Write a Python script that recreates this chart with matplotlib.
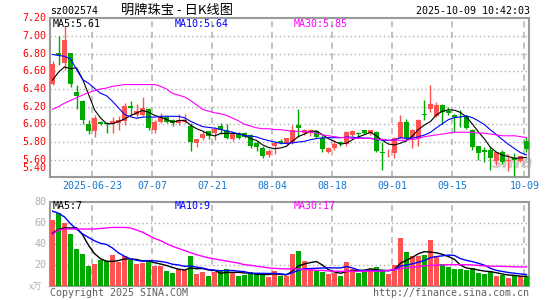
import matplotlib
matplotlib.use("Agg")
import matplotlib.pyplot as plt
from matplotlib.patches import Rectangle
import pandas as pd

# Daily K-line data, 80 trading days 2025-06-12 .. 2025-10-09
opens = [6.46, 6.81, 6.69, 6.81, 6.37, 6.26, 6.00, 5.92, 6.03, 6.01,
         6.00, 6.01, 6.04, 6.21, 6.10, 6.11, 6.17, 5.93, 6.03, 6.08,
         6.05, 6.02, 6.03, 5.98, 5.79, 5.84, 5.92, 5.90, 5.98, 5.94,
         5.83, 5.90, 5.90, 5.88, 5.79, 5.73, 5.65, 5.75, 5.81, 5.78,
         5.80, 5.99, 5.90, 5.92, 5.92, 5.85, 5.69, 5.73, 5.80, 5.78,
         5.88, 5.90, 5.93, 5.90, 5.91, 5.69, 5.67, 5.67, 5.85, 6.03,
         5.84, 5.85, 6.12, 6.17, 6.09, 6.22, 6.15, 6.10, 6.11, 6.08,
         5.93, 5.75, 5.71, 5.71, 5.58, 5.69, 5.59, 5.62, 5.59, 5.81]
highs = [6.72, 7.00, 7.11, 6.81, 6.44, 6.27, 6.05, 6.10, 6.04, 6.03,
         6.08, 6.09, 6.24, 6.26, 6.23, 6.31, 6.18, 6.05, 6.13, 6.09,
         6.06, 6.12, 6.12, 6.01, 5.83, 5.92, 5.92, 5.97, 6.01, 6.00,
         5.91, 5.91, 5.91, 5.89, 5.81, 5.76, 5.72, 5.81, 5.83, 5.85,
         5.99, 6.17, 5.95, 5.95, 5.93, 5.88, 5.74, 5.82, 5.81, 5.92,
         5.93, 5.91, 5.94, 5.94, 5.92, 5.80, 5.72, 5.86, 6.10, 6.06,
         5.95, 6.06, 6.27, 6.45, 6.25, 6.23, 6.20, 6.12, 6.16, 6.10,
         5.95, 5.75, 5.74, 5.74, 5.69, 5.71, 5.66, 5.68, 5.64, 5.86]
lows = [6.44, 6.67, 6.61, 6.42, 6.17, 6.00, 5.89, 5.86, 5.99, 5.90,
        5.90, 5.93, 5.99, 6.11, 6.08, 6.09, 5.93, 5.90, 6.01, 6.01,
        5.98, 5.99, 6.01, 5.70, 5.74, 5.82, 5.83, 5.82, 5.89, 5.83,
        5.81, 5.83, 5.84, 5.73, 5.70, 5.62, 5.63, 5.66, 5.78, 5.77,
        5.78, 5.86, 5.88, 5.87, 5.85, 5.69, 5.68, 5.71, 5.75, 5.76,
        5.87, 5.86, 5.89, 5.88, 5.69, 5.48, 5.63, 5.62, 5.84, 5.81,
        5.73, 5.76, 6.05, 6.14, 6.08, 6.00, 6.10, 5.91, 5.97, 5.95,
        5.71, 5.60, 5.57, 5.48, 5.54, 5.55, 5.47, 5.42, 5.57, 5.69]
closes = [6.68, 6.79, 6.95, 6.46, 6.32, 6.05, 5.92, 6.07, 6.00, 6.00,
          6.04, 6.05, 6.21, 6.19, 6.15, 6.18, 5.96, 6.03, 6.08, 6.03,
          6.02, 6.05, 6.05, 5.80, 5.83, 5.89, 5.87, 5.95, 5.94, 5.84,
          5.89, 5.85, 5.86, 5.75, 5.74, 5.64, 5.70, 5.79, 5.79, 5.84,
          5.93, 5.96, 5.93, 5.94, 5.86, 5.72, 5.73, 5.78, 5.79, 5.91,
          5.92, 5.89, 5.90, 5.93, 5.70, 5.67, 5.68, 5.85, 6.03, 5.84,
          5.94, 6.05, 6.10, 6.23, 6.22, 6.14, 6.13, 6.08, 6.10, 5.96,
          5.74, 5.68, 5.69, 5.62, 5.69, 5.57, 5.60, 5.60, 5.64, 5.72]
# volume in 10k shares
volumes = [63, 69, 60, 49, 35, 30, 18.4, 20.3, 24.8, 23.2,
           28.9, 22.5, 27.9, 24.8, 21, 21.6, 23.5, 18.7, 18.7, 13.7,
           12.1, 15.6, 14.6, 27.9, 10.8, 12.7, 8.9, 12.7, 13.7, 15.6,
           12.7, 8.9, 9.8, 12.7, 10.8, 11.4, 8.3, 13.7, 9.2, 8.9,
           29.8, 32.7, 23.2, 15.6, 13.7, 13, 10.8, 12.4, 9.2, 22.2,
           16.2, 12.4, 14, 15.6, 17.5, 13.7, 10.8, 19.4, 45.4, 31.7,
           27.9, 28.3, 28.9, 43.2, 28.3, 20.6, 17.8, 15.6, 15.6, 14.6,
           16.5, 12.1, 10.8, 13, 9.2, 10.5, 7.3, 9.2, 8.9, 8.9]

# a few days before the window, needed for the MA5 / MA10 start
prior_close = [6.89, 7.05, 6.76, 7.50, 7.20, 6.34, 6.65, 6.56, 6.27]
prior_vol = [89, 95, 114, 85, 77, 51.5, 52.5, 49, 34]

# 30-day averages
ma30_price = [6.17, 6.20, 6.24, 6.27, 6.30, 6.33, 6.36, 6.38, 6.40, 6.41,
              6.43, 6.44, 6.45, 6.45, 6.45, 6.45, 6.45, 6.45, 6.43, 6.40,
              6.35, 6.33, 6.31, 6.27, 6.22, 6.17, 6.15, 6.13, 6.12, 6.10,
              6.07, 6.04, 6.00, 5.98, 5.96, 5.95, 5.95, 5.94, 5.94, 5.93,
              5.92, 5.92, 5.92, 5.91, 5.90, 5.88, 5.87, 5.86, 5.85, 5.85,
              5.84, 5.84, 5.84, 5.84, 5.83, 5.83, 5.82, 5.82, 5.82, 5.82,
              5.83, 5.84, 5.86, 5.87, 5.88, 5.89, 5.90, 5.91, 5.91, 5.91,
              5.91, 5.90, 5.90, 5.89, 5.88, 5.87, 5.87, 5.87, 5.86, 5.85]
ma30_vol = [49, 53, 54, 54, 54, 54, 54, 54, 54.5, 55,
            55.5, 55.5, 55.5, 55, 53, 51, 48, 45, 43, 40,
            37.5, 35.5, 33.5, 31.5, 29.5, 28, 26.5, 25.5, 24.5, 23.5,
            22.5, 21.5, 20, 19.5, 18.5, 17.8, 17, 16.5, 16.2, 16,
            16, 16, 15.5, 15, 14.7, 14.5, 14, 13.8, 13.7, 13.7,
            13.7, 13.7, 13.7, 13.7, 13.8, 14, 14.5, 15.3, 16.3, 17,
            17.6, 18.2, 18.8, 19.4, 19.6, 19.8, 20, 20, 20, 20,
            19.8, 19.3, 18.8, 18.6, 18.5, 18.4, 18.2, 18, 17.9, 17.8]

# x axis date labels and the day they fall on
date_labels = ['2025-06-23', '07-07', '07-21', '08-04', '08-18', '09-01', '09-15', '10-09']
date_index = [7, 17, 27, 37, 47, 57, 67, 79]

price_ticks = [7.20, 7.00, 6.80, 6.60, 6.40, 6.20, 6.00, 5.80, 5.60, 5.40]
vol_ticks = [80, 60, 40, 20]

code = 'sz002574'
title = '明牌珠宝 - 日K线图'
stamp = '2025-10-09 10:42:03'
price_ma_text = ['MA5:5.61', 'MA10:5.64', 'MA30:5.85']
vol_ma_text = ['MA5:7', 'MA10:9', 'MA30:17']

RED = '#ff5252'
GREEN = '#00a800'
MONO = 'DejaVu Sans Mono'
CJK = ['Noto Sans CJK SC', 'DejaVu Sans']

# moving averages
c_all = pd.Series(prior_close + closes)
v_all = pd.Series(prior_vol + volumes)
n = len(closes)
ma5_price = c_all.rolling(5).mean().values[-n:]
ma10_price = c_all.rolling(10).mean().values[-n:]
ma5_vol = v_all.rolling(5).mean().values[-n:]
ma10_vol = v_all.rolling(10).mean().values[-n:]

W, H = 545, 300


def px(x, y):
    return x / W, 1 - y / H


fig = plt.figure(figsize=(W / 100, H / 100), dpi=100)
fig.patch.set_facecolor('white')

left, right = 49.7, 529.3
ax = fig.add_axes([left / W, 1 - 177.3 / H, (right - left) / W, (177.3 - 18.3) / H])
axv = fig.add_axes([left / W, 1 - 285.7 / H, (right - left) / W, (285.7 - 201.7) / H])

xs = list(range(n))
for a in (ax, axv):
    a.set_xlim(-0.47, n - 0.53)
    a.set_xticks([])
    a.set_yticks([])
    for s in a.spines.values():
        s.set_color('#9a9a9a')
        s.set_linewidth(1.5)
    for d in date_index:
        a.axvline(d - 0.35, color='#b0b0b0', ls=(0, (4, 3)), lw=1.1, zorder=1)

ax.set_ylim(5.40, 7.20)
axv.set_ylim(0, 80)
for t in price_ticks[1:-1]:
    ax.axhline(t, color='#b0b0b0', ls=(0, (1, 2)), lw=1, zorder=1)
for t in vol_ticks[1:]:
    axv.axhline(t, color='#b0b0b0', ls=(0, (1, 2)), lw=1, zorder=1)

# watermark
ax.text(0.965, 0.09, 'sina', transform=ax.transAxes, ha='center', va='center',
        fontsize=13, fontstyle='italic', fontweight='bold', color='#d9c8c8', zorder=0)

# candles
body_w = 0.72
for i in xs:
    o, h, l, c = opens[i], highs[i], lows[i], closes[i]
    col = RED if c >= o else GREEN
    ax.vlines(i, l, h, color=col, lw=1, zorder=3)
    bottom = min(o, c)
    height = max(abs(c - o), 0.008)
    ax.add_patch(Rectangle((i - body_w / 2, bottom), body_w, height,
                           facecolor=col, edgecolor='none', zorder=4))
    axv.bar(i, volumes[i], width=0.8, color=col, zorder=3)

ax.plot(xs, ma5_price, color='black', lw=0.8, zorder=5)
ax.plot(xs, ma10_price, color='#0000ff', lw=0.8, zorder=5)
ax.plot(xs, ma30_price, color='#ff00ff', lw=0.8, zorder=5)
axv.plot(xs, ma5_vol, color='black', lw=1.0, zorder=5)
axv.plot(xs, ma10_vol, color='#0000ff', lw=1.0, zorder=5)
axv.plot(xs, ma30_vol, color='#ff00ff', lw=1.0, zorder=5)

# y labels
for t in price_ticks:
    y = 18.3 + (7.20 - t) / 1.8 * 159
    if t == price_ticks[-1]:
        y -= 9
    fig.text(*px(46.5, y), f'{t:.2f}', color='#ff0000', fontsize=7.2,
             family=MONO, ha='right', va='center')
for t in vol_ticks:
    y = 285.7 - t / 80 * 84
    fig.text(*px(46.5, y), str(t), color='#b0b0b0', fontsize=7.2,
             family=MONO, ha='right', va='center')
fig.text(*px(36, 287), 'x万', color='#b0b0b0', fontsize=6.5, family=CJK,
         ha='center', va='center', fontstyle='italic')

# date labels
for lab, d in zip(date_labels, date_index):
    x = 52.5 + 6 * (d - 0.35)
    fig.text(*px(x, 186), lab, color='#1478d0', fontsize=7.2, family=MONO,
             ha='center', va='center')

# header
fig.text(*px(50, 11.5), code, fontsize=7.2, family=MONO, ha='left', va='center')
fig.text(*px(177, 10.5), title, fontsize=9.5, family=CJK, ha='center', va='center')
fig.text(*px(529.5, 11.5), stamp, fontsize=7.2, family=MONO, ha='right', va='center')

# MA legends
ma_cols = ['black', '#0000ff', '#ff00ff']
ma_x = [53, 175, 294]
for txt, col, x in zip(price_ma_text, ma_cols, ma_x):
    fig.text(*px(x, 24), txt, color=col, fontsize=7.2, family=MONO, ha='left', va='center')
for txt, col, x in zip(vol_ma_text, ma_cols, ma_x):
    fig.text(*px(x, 206), txt, color=col, fontsize=7.2, family=MONO, ha='left', va='center')

# footer
fig.text(*px(50, 292.5), 'Copyright 2025 SINA.COM', color='#606060', fontsize=7.2,
         family=MONO, ha='left', va='center')
fig.text(*px(529.5, 292.5), 'http://finance.sina.com.cn', color='#606060', fontsize=7.2,
         family=MONO, ha='right', va='center')

fig.savefig('out.png', dpi=100, facecolor='white')
